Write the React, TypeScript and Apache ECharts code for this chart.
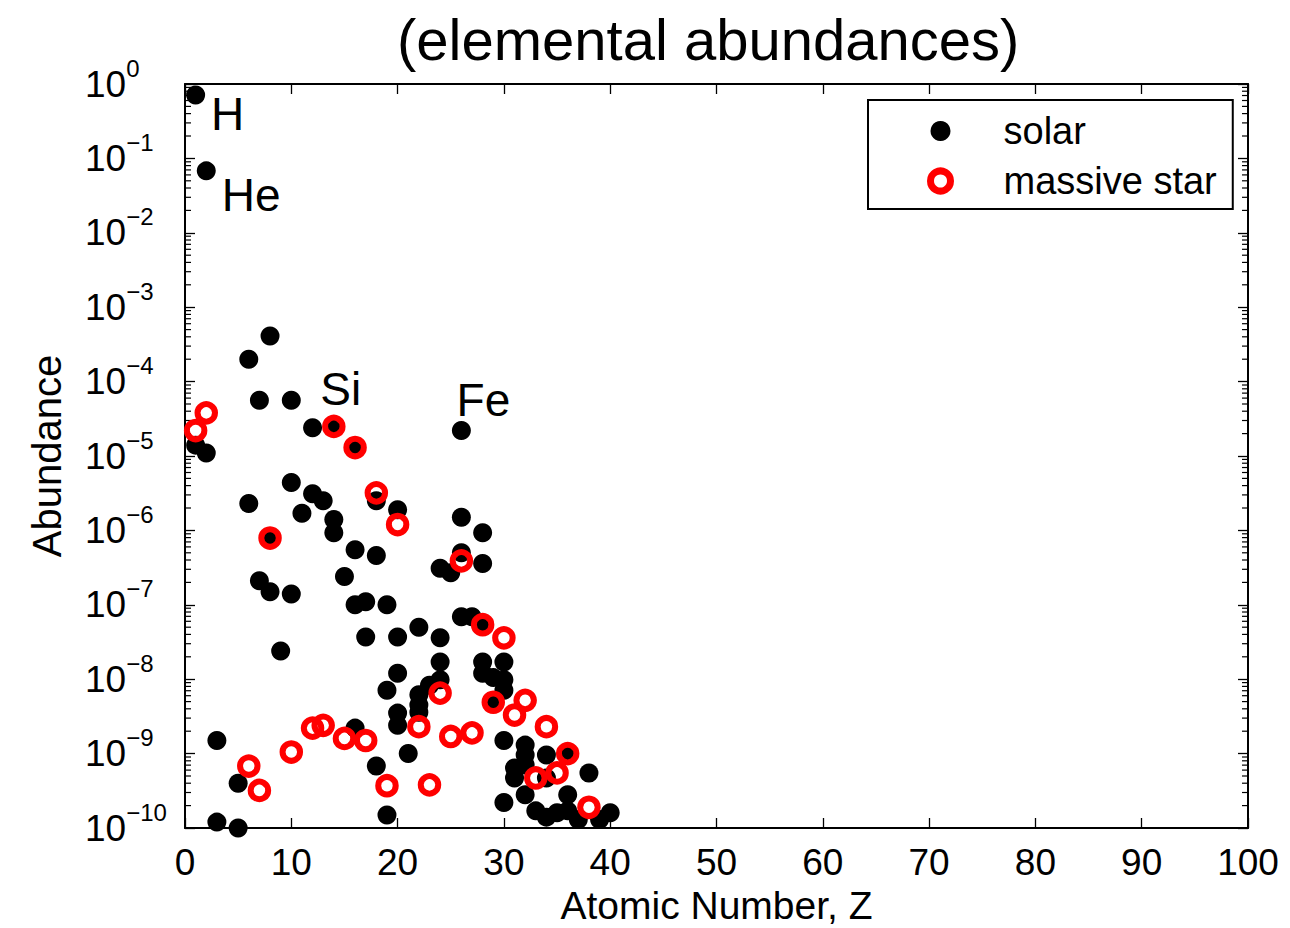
import React, { useEffect, useRef } from "react";
import * as echarts from "echarts";

const FONT = "'Liberation Sans', Arial, Helvetica, sans-serif";

// Solar abundances (atomic number Z, abundance)
const solarZ = [
  1, 1, 2, 2, 3, 3, 5, 5, 6, 6, 7, 7, 8, 8, 8, 9, 10, 10, 10, 11, 12, 12, 13,
  14, 14, 14, 15, 16, 16, 16, 16, 17, 17, 18, 18, 18, 19, 19, 19, 20, 20, 20,
  20, 20, 21, 22, 22, 22, 22, 23, 24, 24, 24, 24, 25, 26, 26, 26, 26, 27, 28,
  28, 28, 28, 28, 29, 29, 30, 30, 30, 30, 30, 31, 31, 32, 32, 32, 32, 33, 34,
  34, 34, 35, 36, 36, 36, 37, 38, 39, 40,
];
const solarAbundance = [
  0.71, 1.4e-5, 0.068, 1.1e-5, 1.5e-9, 1.2e-10, 4e-10, 1e-10, 2e-4, 2.3e-6,
  5.6e-5, 2.1e-7, 4.1e-4, 7.9e-7, 1.5e-7, 2.4e-8, 5.6e-5, 4.4e-6, 1.4e-7,
  1.7e-6, 2.4e-5, 3.1e-6, 2.5e-6, 2.5e-5, 1.4e-6, 9.3e-7, 2.4e-7, 1.3e-5,
  5.5e-7, 1.0e-7, 2.2e-9, 1.1e-7, 3.7e-8, 2.5e-6, 4.6e-7, 6.8e-10, 1.0e-7,
  7.1e-9, 1.5e-10, 1.9e-6, 3.7e-8, 1.2e-8, 3.5e-9, 2.4e-9, 1.0e-9, 5.0e-8,
  6.2e-9, 4.5e-9, 3.6e-9, 8.3e-9, 3.1e-7, 3.6e-8, 1.7e-8, 9.8e-9, 2.7e-7,
  2.2e-5, 1.5e-6, 5.0e-7, 6.9e-8, 6.9e-8, 9.3e-7, 3.6e-7, 5.4e-8, 1.7e-8,
  1.2e-8, 1.05e-8, 4.9e-9, 1.7e-8, 9.8e-9, 7.1e-9, 1.5e-9, 2.2e-10, 6.4e-10,
  4.7e-10, 1.3e-9, 9.6e-10, 7.0e-10, 2.8e-10, 1.7e-10, 9.6e-10, 4.7e-10,
  1.4e-10, 1.6e-10, 1.0e-9, 2.8e-10, 1.7e-10, 1.3e-10, 5.5e-10, 1.3e-10,
  1.6e-10,
];

// Massive star yields (atomic number Z, abundance)
const massiveZ = [
  1, 2, 6, 7, 8, 10, 12, 13, 14, 15, 16, 17, 18, 19, 20, 22, 23, 24, 25, 26,
  27, 28, 29, 30, 31, 32, 33, 34, 35, 36, 38,
];
const massiveAbundance = [
  2.2e-5, 3.8e-5, 6.8e-10, 3.2e-10, 7.9e-7, 1.05e-9, 2.2e-9, 2.4e-9, 2.5e-5,
  1.6e-9, 1.3e-5, 1.5e-9, 3.2e-6, 3.7e-10, 1.2e-6, 2.3e-9, 3.8e-10, 6.5e-9,
  1.7e-9, 3.9e-7, 1.9e-9, 5.4e-8, 4.9e-9, 3.6e-8, 3.3e-9, 5.2e-9, 4.7e-10,
  2.3e-9, 5.5e-10, 1.0e-9, 1.9e-10,
];

// Element names annotated next to solar points
const annotationNames = ["H", "He", "Si", "Fe"];
const annotationZ = [1, 2, 14, 26];
const annotationAbundance = [0.71, 0.068, 2.5e-5, 2.2e-5];
const annotationOffsets = [
  [32, 19],
  [45, 24],
  [7, -37],
  [22, -31],
];

// Axis definitions
const xMin = 0;
const xMax = 100;
const xInterval = 10;
const yMinExp = -10;
const yMaxExp = 0;
const minorMultipliers = [2, 3, 4, 5, 6, 7, 8, 9];

const minorTickValues: number[] = [];
for (let e = yMinExp; e < yMaxExp; e++) {
  for (const m of minorMultipliers) minorTickValues.push(m * Math.pow(10, e));
}

const MINUS = "\u2212";

export default function App() {
  const ref = useRef<HTMLDivElement>(null);

  useEffect(() => {
    if (!ref.current) return;
    const chart = echarts.init(ref.current, undefined, { renderer: "svg" });

    const solarData = solarZ.map((z, i) => [z, solarAbundance[i]]);
    const massiveData = massiveZ.map((z, i) => [z, massiveAbundance[i]]);
    const annotationData = annotationNames.map((n, i) => ({
      value: [annotationZ[i], annotationAbundance[i]],
      name: n,
      label: { offset: annotationOffsets[i] },
    }));

    const yLabelFormatter = (v: number) => {
      const e = Math.round(Math.log10(v));
      const s = String(e).replace("-", MINUS);
      return `{b|10}{s|${s}}`;
    };

    const axisLineStyle = { color: "#000", width: 2 };
    const tickStyle = { color: "#000", width: 1.3 };

    chart.setOption({
      animation: false,
      backgroundColor: "#fff",
      textStyle: { fontFamily: FONT, color: "#000" },
      title: {
        text: "(elemental abundances)",
        left: 392,
        top: 5,
        padding: 5,
        textStyle: {
          fontSize: 58,
          fontWeight: "normal",
          color: "#000",
          fontFamily: FONT,
        },
      },
      legend: {
        left: 868,
        top: 100,
        orient: "vertical",
        backgroundColor: "#fff",
        borderColor: "#000",
        borderWidth: 2,
        borderRadius: 0,
        padding: [11, 16, 8, 59],
        itemWidth: 20,
        itemHeight: 20,
        itemGap: 10,
        symbolKeepAspect: true,
        selectedMode: false,
        textStyle: {
          fontSize: 38,
          fontFamily: FONT,
          color: "#000",
          lineHeight: 40,
          padding: [0, 0, 0, 48],
        },
        data: [
          {
            name: "solar",
            icon: "circle",
            itemStyle: { color: "#000", borderWidth: 0 },
          },
          {
            name: "massive star",
            icon: "circle",
            itemStyle: {
              color: "rgba(255,255,255,0)",
              borderColor: "#ff0000",
              borderWidth: 7,
            },
          },
        ],
      },
      grid: {
        left: 185,
        right: 42,
        top: 84,
        bottom: 100,
        containLabel: false,
        outerBoundsMode: "none",
      },
      xAxis: [
        {
          type: "value",
          position: "bottom",
          min: xMin,
          max: xMax,
          interval: xInterval,
          name: "Atomic Number, Z",
          nameLocation: "middle",
          nameGap: 58,
          nameTextStyle: {
            fontSize: 39,
            lineHeight: 36,
            fontFamily: FONT,
            color: "#000",
          },
          axisLine: { show: true, onZero: false, lineStyle: axisLineStyle },
          axisTick: { show: true, inside: true, length: 10, lineStyle: tickStyle },
          splitLine: { show: false },
          axisLabel: {
            fontSize: 37,
            lineHeight: 37,
            margin: 16,
            color: "#000",
            fontFamily: FONT,
          },
        },
        {
          type: "value",
          position: "top",
          min: xMin,
          max: xMax,
          interval: xInterval,
          axisLine: { show: true, onZero: false, lineStyle: axisLineStyle },
          axisTick: { show: true, inside: true, length: 10, lineStyle: tickStyle },
          splitLine: { show: false },
          axisLabel: { show: false },
        },
      ],
      yAxis: [
        {
          type: "log",
          logBase: 10,
          position: "left",
          min: Math.pow(10, yMinExp),
          max: Math.pow(10, yMaxExp),
          interval: 1,
          splitNumber: 10,
          name: "Abundance",
          nameLocation: "middle",
          nameGap: 118,
          nameTextStyle: { fontSize: 40, fontFamily: FONT, color: "#000" },
          axisLine: { show: true, onZero: false, lineStyle: axisLineStyle },
          axisTick: {
            show: true,
            inside: true,
            length: 10,
            interval: 0,
            lineStyle: tickStyle,
          },
          splitLine: { show: false },
          minorTick: { show: false },
          axisLabel: {
            align: "left",
            margin: 100,
            interval: 0,
            hideOverlap: false,
            showMinLabel: true,
            showMaxLabel: true,
            formatter: yLabelFormatter,
            rich: {
              b: {
                fontSize: 37,
                lineHeight: 56,
                fontFamily: FONT,
                color: "#000",
              },
              s: {
                fontSize: 24,
                lineHeight: 20,
                verticalAlign: "top",
                fontFamily: FONT,
                color: "#000",
              },
            },
          },
        },
        {
          type: "log",
          logBase: 10,
          position: "right",
          min: Math.pow(10, yMinExp),
          max: Math.pow(10, yMaxExp),
          interval: 1,
          splitNumber: 10,
          axisLine: { show: true, onZero: false, lineStyle: axisLineStyle },
          axisTick: {
            show: true,
            inside: true,
            length: 10,
            interval: 0,
            lineStyle: tickStyle,
          },
          splitLine: { show: false },
          axisLabel: { show: false },
        },
      ],
      series: [
        {
          name: "minor ticks",
          type: "custom",
          xAxisIndex: 0,
          yAxisIndex: 0,
          silent: true,
          clip: false,
          encode: { x: 0, y: 1 },
          data: minorTickValues.map((v) => [xMin, v]),
          renderItem: (_params: any, api: any) => {
            const v = api.value(1);
            const l = api.coord([xMin, v]);
            const r = api.coord([xMax, v]);
            return {
              type: "group",
              children: [
                {
                  type: "line",
                  shape: { x1: l[0], y1: l[1], x2: l[0] + 6, y2: l[1] },
                  style: { stroke: "#000", lineWidth: 1.2 },
                },
                {
                  type: "line",
                  shape: { x1: r[0], y1: r[1], x2: r[0] - 6, y2: r[1] },
                  style: { stroke: "#000", lineWidth: 1.2 },
                },
              ],
            };
          },
        },
        {
          name: "solar",
          type: "scatter",
          xAxisIndex: 0,
          yAxisIndex: 0,
          clip: false,
          symbol: "circle",
          symbolSize: 19,
          itemStyle: { color: "#000", opacity: 1 },
          data: solarData,
        },
        {
          name: "labels",
          type: "scatter",
          xAxisIndex: 0,
          yAxisIndex: 0,
          clip: false,
          silent: true,
          symbol: "circle",
          symbolSize: 1,
          itemStyle: { color: "rgba(0,0,0,0)" },
          label: {
            show: true,
            position: "inside",
            formatter: (p: any) => p.name,
            fontSize: 46,
            fontFamily: FONT,
            color: "#000",
            opacity: 1,
            textBorderWidth: 0,
          },
          data: annotationData,
          z: 5,
        },
        {
          name: "massive star",
          type: "scatter",
          xAxisIndex: 0,
          yAxisIndex: 0,
          clip: false,
          symbol: "circle",
          symbolSize: 17.5,
          itemStyle: {
            color: "rgba(255,255,255,0)",
            borderColor: "#ff0000",
            borderWidth: 6,
            opacity: 1,
          },
          data: massiveData,
          z: 3,
        },
      ],
    });

    return () => chart.dispose();
  }, []);

  return (
    <div
      ref={ref}
      style={{
        position: "absolute",
        left: 0,
        top: 0,
        width: 1290,
        height: 928,
        background: "#fff",
      }}
    />
  );
}
